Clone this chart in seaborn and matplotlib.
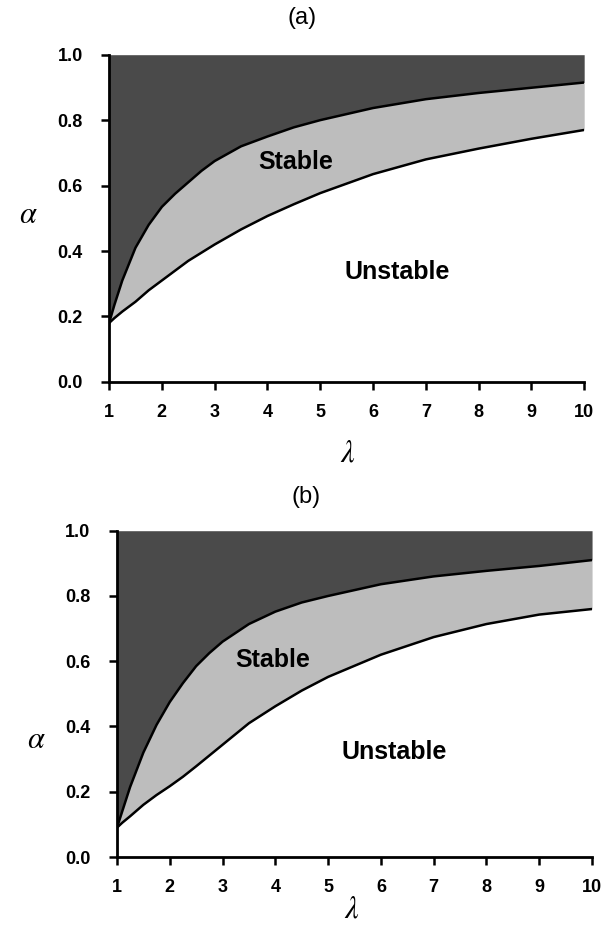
import numpy as np
import pandas as pd
import matplotlib
matplotlib.use("Agg")
import matplotlib.pyplot as plt
import seaborn as sns

# -------------------- Data --------------------
lam = [1, 1.1, 1.25, 1.5, 1.75, 2, 2.25, 2.5, 2.75, 3, 3.5, 4, 4.5, 5, 6, 7, 8, 9, 10]

# panel (a): upper = dark/light boundary, lower = stable/unstable boundary
upper_a = [0.18, 0.235, 0.31, 0.41, 0.48, 0.535, 0.575, 0.61, 0.645, 0.675, 0.72, 0.75, 0.778,
           0.80, 0.837, 0.864, 0.883, 0.899, 0.915]
lower_a = [0.18, 0.195, 0.215, 0.245, 0.28, 0.31, 0.34, 0.37, 0.395, 0.42, 0.466, 0.507, 0.543,
           0.577, 0.635, 0.68, 0.713, 0.743, 0.77]

# panel (b)
upper_b = [0.09, 0.14, 0.215, 0.32, 0.405, 0.475, 0.533, 0.585, 0.625, 0.66, 0.714, 0.752, 0.78,
           0.80, 0.836, 0.86, 0.877, 0.892, 0.91]
lower_b = [0.09, 0.105, 0.125, 0.16, 0.19, 0.217, 0.246, 0.278, 0.311, 0.344, 0.41, 0.462, 0.51,
           0.552, 0.62, 0.674, 0.714, 0.743, 0.76]

panel_titles = ["(a)", "(b)"]
xticks = list(range(1, 11))
yticks = [0.0, 0.2, 0.4, 0.6, 0.8, 1.0]

DARK = "#4a4a4a"
LIGHT = "#bdbdbd"

# -------------------- Style --------------------
sns.set_style("ticks")
plt.rcParams["font.family"] = ["Liberation Sans", "DejaVu Sans"]
plt.rcParams["mathtext.fontset"] = "stix"
plt.rcParams["text.color"] = "black"


def draw_panel(ax, upper, lower, stable_xy, unstable_xy, alpha_y):
    df = pd.DataFrame({"lam": lam, "upper": upper, "lower": lower})
    ax.fill_between(df["lam"], df["upper"], 1.0, color=DARK, linewidth=0)
    ax.fill_between(df["lam"], df["lower"], df["upper"], color=LIGHT, linewidth=0)
    sns.lineplot(data=df, x="lam", y="upper", ax=ax, color="black", linewidth=1.8)
    sns.lineplot(data=df, x="lam", y="lower", ax=ax, color="black", linewidth=1.8)

    ax.set_xlim(1, 10)
    ax.set_ylim(0, 1)
    ax.set_xticks(xticks)
    ax.set_yticks(yticks)
    ax.set_yticklabels([f"{v:.1f}" for v in yticks])
    ax.tick_params(axis="both", direction="out", length=6, width=1.8,
                   labelsize=13, colors="black")
    ax.tick_params(axis="y", pad=13)
    ax.tick_params(axis="x", pad=10)
    for lbl in ax.get_xticklabels() + ax.get_yticklabels():
        lbl.set_fontweight("bold")

    sns.despine(ax=ax)
    for side in ["left", "bottom"]:
        ax.spines[side].set_linewidth(2)
        ax.spines[side].set_color("black")

    ax.set_xlabel("")
    ax.set_ylabel("")
    ax.text(-0.17, alpha_y, r"$\alpha$", transform=ax.transAxes,
            fontsize=22, ha="center", va="center")
    ax.text(stable_xy[0], stable_xy[1], "Stable", fontsize=18,
            fontweight="bold", ha="center", va="center")
    ax.text(unstable_xy[0], unstable_xy[1], "Unstable", fontsize=18,
            fontweight="bold", ha="center", va="center")


fig = plt.figure(figsize=(6.06, 9.27), dpi=100)
ax_a = fig.add_axes([0.180, 0.588, 0.784, 0.353])
ax_b = fig.add_axes([0.193, 0.0755, 0.784, 0.352])

draw_panel(ax_a, upper_a, lower_a, (4.53, 0.673), (6.45, 0.335), 0.51)
draw_panel(ax_b, upper_b, lower_b, (3.95, 0.604), (6.26, 0.323), 0.36)

# panel titles and lambda labels placed in figure pixels
fig.text(302 / 606, 1 - 18 / 927, panel_titles[0], fontsize=17, ha="center", va="center")
fig.text(306 / 606, 1 - 497 / 927, panel_titles[1], fontsize=17, ha="center", va="center")
fig.text(348 / 606, 1 - 453 / 927, r"$\lambda$", fontsize=22, ha="center", va="center")
fig.text(352 / 606, 1 - 910 / 927, r"$\lambda$", fontsize=22, ha="center", va="center")

fig.savefig("out.png", dpi=100)
plt.close(fig)
